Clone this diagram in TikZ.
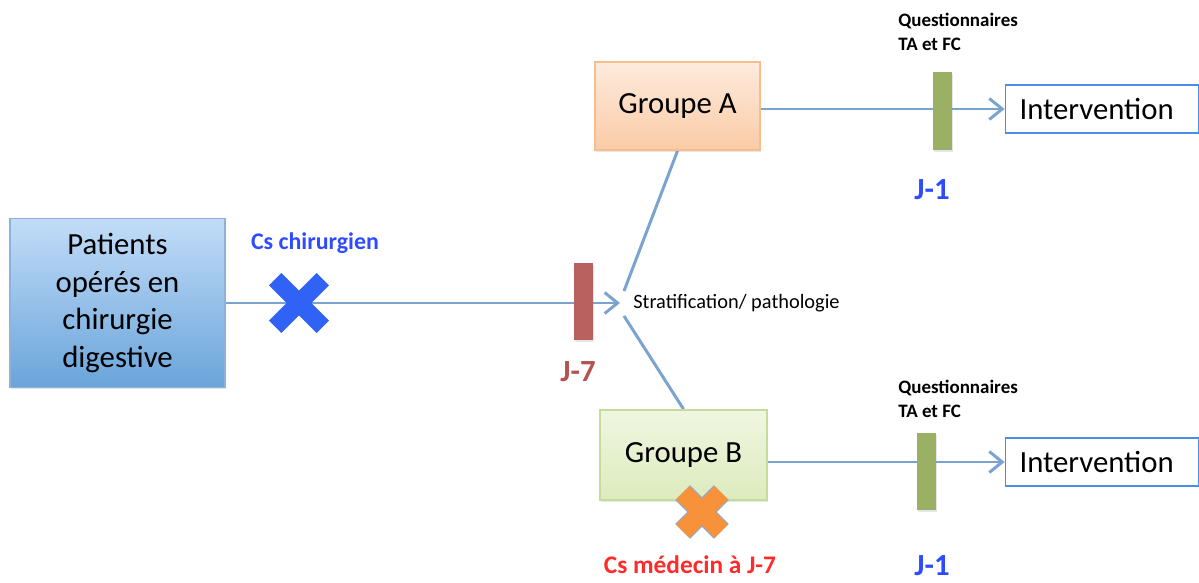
\documentclass[tikz,border=0pt]{standalone}
\usepackage{fontspec}
\setmainfont{Carlito}
\usepackage{xcolor}
\definecolor{cLine}{HTML}{7BA3D0}
\definecolor{cPatTop}{HTML}{C2DCF8}
\definecolor{cPatBot}{HTML}{6AA4DA}
\definecolor{cPatBd}{HTML}{8DB3DD}
\definecolor{cATop}{HTML}{FDEBDD}
\definecolor{cABot}{HTML}{FBCBA6}
\definecolor{cABd}{HTML}{F8BC8E}
\definecolor{cBTop}{HTML}{F0F6E1}
\definecolor{cBBot}{HTML}{DDEBBD}
\definecolor{cBBd}{HTML}{C6DC9C}
\definecolor{cJ7}{HTML}{B8615E}
\definecolor{cJ1}{HTML}{9BB065}
\definecolor{cInter}{HTML}{4A8CE8}
\definecolor{cBlue}{HTML}{2F4BFF}
\definecolor{cRed}{HTML}{FF2A2A}
\definecolor{cJ7txt}{HTML}{B5524F}
\definecolor{cXblue}{HTML}{2F62F5}
\definecolor{cXorange}{HTML}{F7923A}
\definecolor{cXout}{HTML}{8EA9CF}
\usepackage{tikz}
\usetikzlibrary{positioning,arrows.meta,shapes.misc,shadows,backgrounds}
\tikzset{
  node-box/.style={draw,line width=1pt,align=center,inner sep=0pt,
    font=\fontsize{17.5}{21.3}\selectfont},
  node-shadow/.style={drop shadow={opacity=0.2,shadow xshift=0.6pt,shadow yshift=-1pt}},
  node-patient/.style={draw=cPatBd,top color=cPatTop,bottom color=cPatBot,node-shadow},
  node-groupa/.style={draw=cABd,top color=cATop,bottom color=cABot,node-shadow},
  node-groupb/.style={draw=cBBd,top color=cBTop,bottom color=cBBot,node-shadow},
  node-inter/.style={draw=cInter,fill=white,minimum width=3.86cm,minimum height=0.96cm,
    text width=3.3cm,align=left},
  node-bar/.style={minimum width=0.38cm,minimum height=1.55cm,inner sep=0pt,node-shadow},
  node-quest/.style={align=left,inner sep=0pt,anchor=west,
    font=\fontsize{10.8}{13.6}\selectfont\bfseries},
  node-day/.style={inner sep=0pt,font=\fontsize{17.5}{20}\selectfont\bfseries},
  x-mark/.style={cross out,inner sep=0pt,minimum size=0.6cm},
  arrow/.style={-{Straight Barb[length=2.6mm,width=4.2mm]},line width=1.7pt,draw=cLine},
  link/.style={line width=1.7pt,draw=cLine},
}
\begin{document}
\begin{tikzpicture}
  \useasboundingbox (0,0) rectangle (23.98,11.66);
  % boîtes
  \node[node-box,node-patient,minimum width=4.3cm,minimum height=3.38cm] (pat) at (2.35,5.6)
    {Patients\\opérés en\\chirurgie\\digestive};
  \node[node-box,node-groupa,minimum width=3.3cm,minimum height=1.76cm] (ga) at (13.55,9.54) {Groupe A};
  \node[node-box,node-groupb,minimum width=3.34cm,minimum height=1.8cm] (gb) at (13.67,2.56) {Groupe B};
  \node[node-box,node-inter] (ia) at (22.04,9.48) {Intervention};
  \node[node-box,node-inter] (ib) at (22.04,2.42) {Intervention};

  % barres J-7 / J-1
  \node[node-bar,fill=cJ7] (bar7) at (11.66,5.63) {};
  \node[node-bar,fill=cJ1] (bara) at (18.85,9.44) {};
  \node[node-bar,fill=cJ1] (barb) at (18.53,2.23) {};
  \coordinate (strat) at (12.4,5.6);
  \coordinate (strat-a) at (12.48,5.84);
  \coordinate (strat-b) at (12.48,5.34);
  \node[anchor=west,inner sep=0pt,font=\fontsize{11.6}{14}\selectfont] (stxt) at (12.66,5.6)
    {Stratification/ pathologie};

  % liens
  \begin{scope}[on background layer]
    \draw[arrow] (pat) -- (strat);
    \draw[link] (strat-a) -- (ga.south);
    \draw[link] (strat-b) -- (gb.north);
    \draw[arrow] (ga.east |- ia.west) -- (ia.west);
    \draw[arrow] (gb.east |- ib.west) -- (ib.west);
  \end{scope}

  % consultations
  \node[x-mark,draw=cXblue,line width=10pt] (xchir) at (5.98,5.6) {};
  \node[x-mark,minimum size=0.75cm,draw=cXout,double=cXorange,double distance=10.5pt,line width=0.7pt] (xmed) at (14.04,1.42) {};
  \node[font=\fontsize{13.6}{16}\selectfont\bfseries,text=cBlue] (cchir) at (6.3,6.8) {Cs chirurgien};
  \node[font=\fontsize{14.4}{17}\selectfont\bfseries,text=cRed] (cmed) at (13.8,0.36) {Cs médecin à J-7};

  % jours et questionnaires
  \node[node-day,text=cJ7txt] (d7) at (11.56,4.22) {J-7};
  \node[node-day,text=cBlue] (d1a) at (18.64,7.86) {J-1};
  \node[node-day,text=cBlue] (d1b) at (18.64,0.34) {J-1};
  \node[node-quest] (qa) at (17.96,11.02) {Questionnaires\\TA et FC};
  \node[node-quest] (qb) at (17.96,3.69) {Questionnaires\\TA et FC};
\end{tikzpicture}
\end{document}
